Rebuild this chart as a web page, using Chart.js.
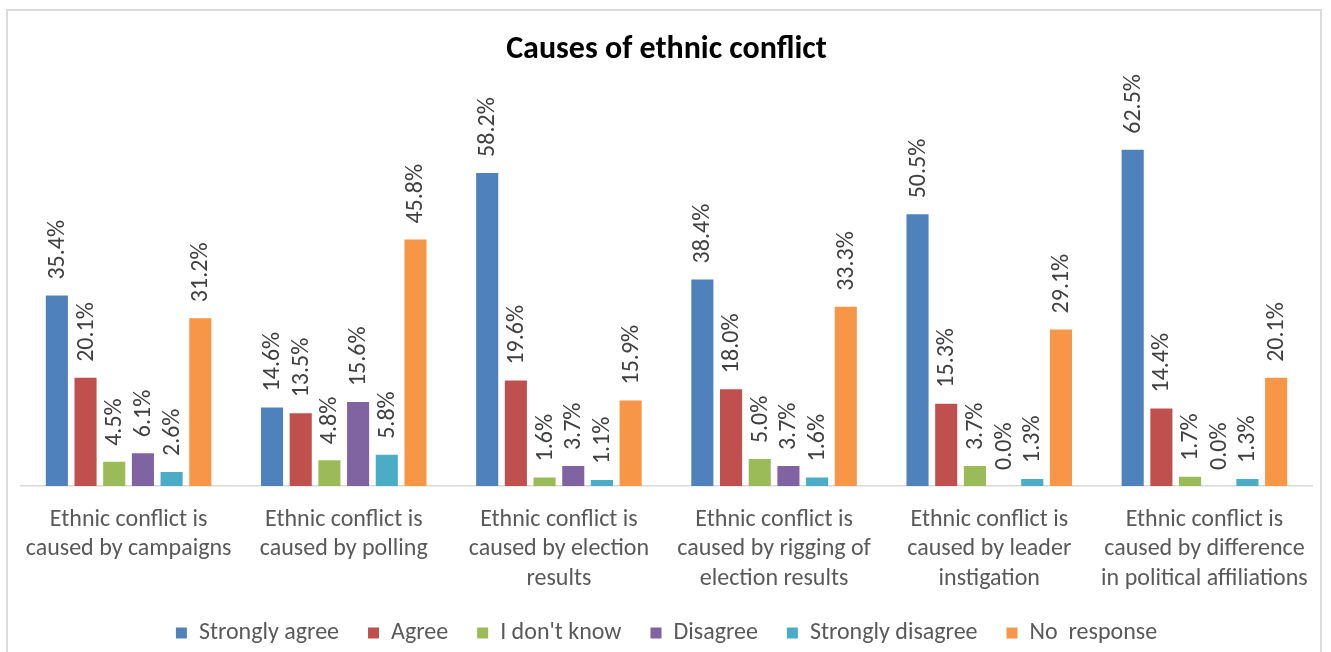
<!DOCTYPE html>
<html>
<head>
<meta charset="utf-8">
<title>Causes of ethnic conflict</title>
<script src="https://cdn.jsdelivr.net/npm/chart.js@4.4.1/dist/chart.umd.min.js"></script>
<style>
  html, body { margin:0; padding:0; background:#fff; overflow:hidden; }
  #frame { position:absolute; left:6px; top:9px; width:1316px; height:700px; border:2px solid #dcdcdc; box-sizing:border-box; }
  #chart { position:absolute; left:0; top:0; }
</style>
</head>
<body>
<div id="frame"></div>
<canvas id="chart" width="1331" height="655"></canvas>
<script>
// survey answers, % of respondents per statement
const categories = [
  ['Ethnic conflict is', 'caused by campaigns'],
  ['Ethnic conflict is', 'caused by polling'],
  ['Ethnic conflict is', 'caused by election', 'results'],
  ['Ethnic conflict is', 'caused by rigging of', 'election results'],
  ['Ethnic conflict is', 'caused by leader', 'instigation'],
  ['Ethnic conflict is', 'caused by difference', 'in political affiliations']
];
const stronglyAgree    = [35.4, 14.6, 58.2, 38.4, 50.5, 62.5];
const agree            = [20.1, 13.5, 19.6, 18.0, 15.3, 14.4];
const dontKnow         = [4.5, 4.8, 1.6, 5.0, 3.7, 1.7];
const disagree         = [6.1, 15.6, 3.7, 3.7, 0.0, 0.0];
const stronglyDisagree = [2.6, 5.8, 1.1, 1.6, 1.3, 1.3];
const noResponse       = [31.2, 45.8, 15.9, 33.3, 29.1, 20.1];

const seriesNames  = ['Strongly agree', 'Agree', "I don't know", 'Disagree', 'Strongly disagree', 'No  response'];
const seriesValues = [stronglyAgree, agree, dontKnow, disagree, stronglyDisagree, noResponse];
const seriesColors = ['#4F81BD', '#C0504D', '#9BBB59', '#8064A2', '#4BACC6', '#F79646'];

const FONT = 'Carlito, Lato, "Liberation Sans", sans-serif';

// vertical value labels sitting above each bar
const barLabels = {
  id: 'barLabels',
  afterDatasetsDraw(chart){
    const ctx = chart.ctx;
    ctx.save();
    ctx.font = '24px ' + FONT;
    ctx.fillStyle = '#404040';
    ctx.textAlign = 'left';
    ctx.textBaseline = 'middle';
    chart.data.datasets.forEach((ds, di) => {
      chart.getDatasetMeta(di).data.forEach((bar, i) => {
        ctx.save();
        ctx.translate(bar.x, bar.y - 16);
        ctx.rotate(-Math.PI / 2);
        ctx.fillText(ds.data[i].toFixed(1) + '%', 0, 1);
        ctx.restore();
      });
    });
    ctx.restore();
  }
};

new Chart(document.getElementById('chart'), {
  type: 'bar',
  data: {
    labels: categories,
    datasets: seriesNames.map((name, i) => ({
      label: name,
      data: seriesValues[i],
      backgroundColor: seriesColors[i],
      categoryPercentage: 0.8,
      barPercentage: 0.77
    }))
  },
  options: {
    responsive: false,
    animation: false,
    layout: { padding: { left: 21, right: 19, top: 0, bottom: 0 } },
    plugins: {
      title: {
        display: true,
        text: 'Causes of ethnic conflict',
        color: '#000',
        font: { family: FONT, size: 32, weight: 'bold', lineHeight: 1.2 },
        padding: { top: 31, bottom: 40 }
      },
      legend: {
        position: 'bottom',
        labels: {
          color: '#595959',
          font: { family: FONT, size: 24 },
          boxWidth: 11, boxHeight: 11,
          padding: 29
        }
      },
      tooltip: { enabled: false }
    },
    scales: {
      x: {
        grid: { display: false, drawTicks: false },
        border: { display: true, color: '#d9d9d9', width: 1.5 },
        ticks: {
          color: '#595959',
          font: { family: FONT, size: 24, lineHeight: 1.23 },
          padding: 19,
          maxRotation: 0,
          autoSkip: false
        },
        // padding is counted twice by default, keep the label band tight
        afterFit(scale){ scale.height = 106; }
      },
      y: {
        display: false,
        min: 0,
        max: 70
      }
    }
  },
  plugins: [barLabels]
});
</script>
</body>
</html>
